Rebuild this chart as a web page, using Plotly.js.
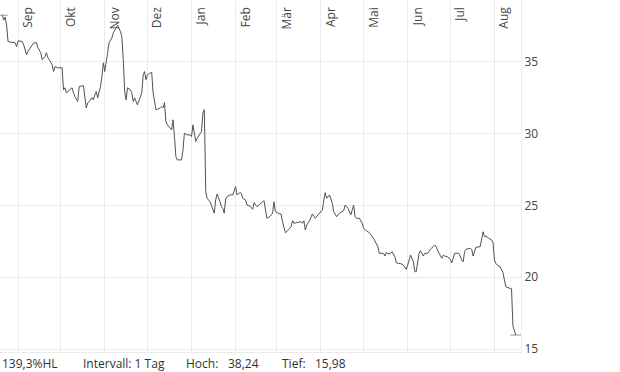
<!DOCTYPE html>
<html>
<head>
<meta charset="utf-8">
<script src="https://cdn.plot.ly/plotly-3.0.1.min.js"></script>
<style>html,body{margin:0;padding:0;background:#fff;}#chart{width:620px;height:372px;}</style>
</head>
<body>
<div id="chart"></div>
<script>
const dates = [
'2023-08-21','2023-08-22','2023-08-23','2023-08-24','2023-08-25','2023-08-28','2023-08-30','2023-08-31',
'2023-09-01','2023-09-04','2023-09-05','2023-09-07','2023-09-08','2023-09-12','2023-09-14','2023-09-15',
'2023-09-17','2023-09-18','2023-09-19','2023-09-20','2023-09-21','2023-09-22','2023-09-23','2023-09-25',
'2023-09-26','2023-09-27','2023-09-29','2023-10-02','2023-10-03','2023-10-04','2023-10-05','2023-10-06',
'2023-10-09','2023-10-10','2023-10-11','2023-10-13','2023-10-14','2023-10-17','2023-10-18','2023-10-19',
'2023-10-20','2023-10-21','2023-10-23','2023-10-24','2023-10-25','2023-10-26','2023-10-27','2023-10-29',
'2023-10-30','2023-10-31','2023-11-01','2023-11-02','2023-11-03','2023-11-04','2023-11-06','2023-11-07',
'2023-11-09','2023-11-10','2023-11-12','2023-11-13','2023-11-14','2023-11-15','2023-11-16','2023-11-17',
'2023-11-19','2023-11-20','2023-11-21','2023-11-22','2023-11-24','2023-11-26','2023-11-27','2023-11-28',
'2023-11-29','2023-11-30','2023-12-01','2023-12-03','2023-12-04','2023-12-05','2023-12-06','2023-12-07',
'2023-12-10','2023-12-11','2023-12-12','2023-12-13','2023-12-14','2023-12-15','2023-12-18','2023-12-19',
'2023-12-20','2023-12-21','2023-12-22','2023-12-25','2023-12-26','2023-12-27','2023-12-29','2023-12-31',
'2024-01-01','2024-01-02','2024-01-03','2024-01-04','2024-01-05','2024-01-08','2024-01-09','2024-01-10',
'2024-01-11','2024-01-12','2024-01-14','2024-01-15','2024-01-16','2024-01-17','2024-01-18','2024-01-19',
'2024-01-21','2024-01-22','2024-01-23','2024-01-24','2024-01-25','2024-01-26','2024-01-28','2024-01-29',
'2024-01-30','2024-02-01','2024-02-02','2024-02-04','2024-02-05','2024-02-06','2024-02-08','2024-02-09',
'2024-02-11','2024-02-13','2024-02-14','2024-02-16','2024-02-18','2024-02-21','2024-02-22','2024-02-23',
'2024-02-25','2024-02-27','2024-02-28','2024-02-29','2024-03-02','2024-03-04','2024-03-05','2024-03-07',
'2024-03-09','2024-03-11','2024-03-12','2024-03-13','2024-03-16','2024-03-18','2024-03-19','2024-03-20',
'2024-03-21','2024-03-22','2024-03-24','2024-03-25','2024-03-26','2024-03-28','2024-03-30','2024-04-01',
'2024-04-02','2024-04-03','2024-04-04','2024-04-05','2024-04-06','2024-04-07','2024-04-09','2024-04-10',
'2024-04-12','2024-04-14','2024-04-17','2024-04-18','2024-04-20','2024-04-22','2024-04-23','2024-04-24',
'2024-04-25','2024-04-26','2024-04-28','2024-04-30','2024-05-01','2024-05-02','2024-05-03','2024-05-04',
'2024-05-05','2024-05-08','2024-05-09','2024-05-11','2024-05-12','2024-05-13','2024-05-15','2024-05-16',
'2024-05-17','2024-05-18','2024-05-20','2024-05-21','2024-05-23','2024-05-24','2024-05-26','2024-05-28',
'2024-05-30','2024-05-31','2024-06-01','2024-06-02','2024-06-03','2024-06-05','2024-06-06','2024-06-07',
'2024-06-08','2024-06-09','2024-06-10','2024-06-12','2024-06-13','2024-06-15','2024-06-17','2024-06-19',
'2024-06-20','2024-06-21','2024-06-22','2024-06-23','2024-06-25','2024-06-26','2024-06-27','2024-06-29',
'2024-07-01','2024-07-02','2024-07-03','2024-07-04','2024-07-06','2024-07-07','2024-07-09','2024-07-10',
'2024-07-11','2024-07-12','2024-07-15','2024-07-16','2024-07-17','2024-07-18','2024-07-19','2024-07-22',
'2024-07-23','2024-07-24','2024-07-25','2024-07-26','2024-07-28','2024-07-30','2024-07-31','2024-08-01',
'2024-08-02','2024-08-03','2024-08-05','2024-08-06','2024-08-07','2024-08-08','2024-08-09','2024-08-12',
'2024-08-13','2024-08-14','2024-08-15','2024-08-16'
];
const prices = [
38.24,37.90,38.10,37.55,36.40,36.32,36.32,36.05,
36.46,36.41,36.18,35.49,35.72,36.32,36.32,35.98,
35.63,35.14,35.28,35.37,35.63,35.28,35.14,34.79,
34.32,34.67,34.58,34.58,33.05,33.19,32.84,32.93,
33.19,32.84,32.58,32.23,33.28,33.33,32.58,31.79,
32.14,32.23,32.49,32.35,32.70,32.93,32.49,33.28,
33.98,34.93,34.32,35.14,35.63,36.32,36.67,37.02,
37.37,37.55,37.11,36.76,35.14,32.93,32.35,33.19,
33.05,32.84,32.23,32.49,32.00,32.49,32.84,34.09,
34.32,33.75,34.09,34.23,34.25,32.84,32.35,31.65,
31.79,31.89,31.79,32.16,30.84,30.61,30.26,30.96,
29.79,28.40,28.17,28.17,28.87,30.03,29.91,29.91,
29.79,30.61,30.03,29.45,29.68,30.14,31.43,31.66,
25.96,25.50,25.26,25.03,24.80,24.46,25.40,25.80,
25.26,24.92,24.80,24.46,25.45,25.61,25.73,25.73,
25.73,26.31,25.73,25.89,25.85,25.50,25.38,25.03,
24.96,24.73,25.20,24.92,25.10,25.33,24.69,24.11,
24.22,24.46,25.26,24.57,24.46,24.39,23.87,23.10,
23.29,23.52,23.94,23.76,23.83,23.87,23.76,23.94,
23.29,23.64,23.94,24.22,24.41,24.11,24.34,24.50,
24.69,25.38,25.89,25.50,25.61,25.73,25.15,24.57,
24.22,24.46,24.64,25.03,24.80,24.34,24.69,25.03,
24.22,24.11,24.11,23.76,23.41,23.29,23.24,23.17,
23.10,22.71,22.48,22.13,21.67,21.67,21.67,21.48,
21.74,21.62,21.67,21.78,21.43,21.01,20.97,20.92,
20.73,20.55,20.85,21.20,21.55,21.08,20.39,20.39,
20.97,21.67,21.85,21.48,21.67,21.67,21.95,22.13,
22.25,22.13,21.85,21.67,21.32,21.55,21.48,21.43,
21.25,21.01,21.32,21.67,21.67,21.67,21.20,21.08,
21.78,21.95,22.02,21.95,21.48,21.78,22.09,22.13,
22.71,23.17,22.83,22.87,22.71,22.60,22.41,21.20,
20.97,20.85,20.73,20.50,20.31,19.81,19.34,19.23,
19.20,16.60,16.30,15.98
];
const monthTicks = ['2023-09-01','2023-10-01','2023-11-01','2023-12-01','2024-01-01','2024-02-01','2024-03-01','2024-04-01','2024-05-01','2024-06-01','2024-07-01','2024-08-01'];
const monthLabels = ['Sep','Okt','Nov','Dez','Jan','Feb','Mär','Apr','Mai','Jun','Jul','Aug'];
const yTicks = [15, 20, 25, 30, 35];
const intervalText = 'Intervall: 1 Tag';

const fmt = v => v.toFixed(2).replace('.', ',');
let hiIdx = 0, loIdx = 0;
prices.forEach((p, i) => { if (p > prices[hiIdx]) hiIdx = i; if (p < prices[loIdx]) loIdx = i; });
const hi = prices[hiIdx], lo = prices[loIdx];
const hlPct = ((hi / lo - 1) * 100).toFixed(1).replace('.', ',') + '%HL';
const DAY = 86400000;
const shiftDate = (d, days) => new Date(new Date(d + 'T00:00:00Z').getTime() + days * DAY).toISOString().slice(0, 19).replace('T', ' ');

const gridCol = '#ebebeb';
const txtFont = {family: 'Open Sans, sans-serif', size: 12, color: '#333'};

const trace = {
  x: dates, y: prices, type: 'scatter', mode: 'lines',
  line: {color: '#4d5358', width: 1}, hoverinfo: 'skip'
};

const markLine = (idx) => ({
  type: 'line', xref: 'x', yref: 'y',
  x0: shiftDate(dates[idx], -3.8), x1: shiftDate(dates[idx], 3.8),
  y0: prices[idx], y1: prices[idx],
  line: {color: '#9a9a9a', width: 1}, layer: 'below'
});

const ann = (text, px) => ({
  text: text, xref: 'paper', yref: 'paper', x: px / 521, y: -0.034,
  xanchor: 'left', yanchor: 'middle', showarrow: false, font: txtFont
});

const layout = {
  width: 620, height: 372,
  margin: {l: 0, r: 99, t: 0, b: 20, pad: 0},
  paper_bgcolor: '#fff', plot_bgcolor: '#fff',
  showlegend: false,
  xaxis: {
    type: 'date', range: ['2023-08-19 08:00', '2024-08-19 16:00'],
    side: 'top', tickmode: 'array', tickvals: monthTicks, ticktext: monthLabels,
    tickangle: -90, ticklabelposition: 'inside', ticklabelshift: 10,
    ticks: '', showgrid: true, gridcolor: gridCol, gridwidth: 1,
    showline: true, mirror: true, linecolor: gridCol, linewidth: 1, zeroline: false,
    tickfont: {family: 'Open Sans, sans-serif', size: 12, color: '#444'}, fixedrange: true
  },
  yaxis: {
    side: 'right', range: [14.8, 39.3], tickmode: 'array', tickvals: yTicks,
    ticks: '', showgrid: true, gridcolor: gridCol, gridwidth: 1,
    showline: true, linecolor: gridCol, linewidth: 1, zeroline: false,
    tickfont: {family: 'Open Sans, sans-serif', size: 12, color: '#444'}, fixedrange: true
  },
  shapes: [markLine(hiIdx), markLine(loIdx)],
  annotations: [
    ann(hlPct, 0),
    ann(intervalText, 81),
    ann('Hoch:', 184), ann(fmt(hi), 226),
    ann('Tief:', 280), ann(fmt(lo), 313)
  ]
};

Plotly.newPlot('chart', [trace], layout, {staticPlot: true, displayModeBar: false});
</script>
</body>
</html>
